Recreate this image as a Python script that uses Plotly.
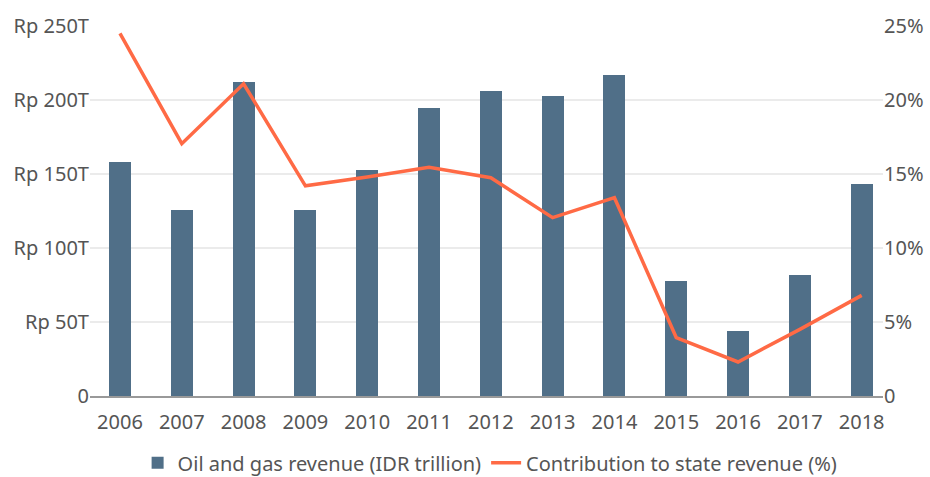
import plotly.graph_objects as go

years = [2006, 2007, 2008, 2009, 2010, 2011, 2012, 2013, 2014, 2015, 2016, 2017, 2018]
revenue = [158, 125.5, 212, 125.5, 152.5, 194.5, 206, 203, 217, 78, 44, 81.5, 143]
share = [24.5, 17.05, 21.1, 14.2, 14.8, 15.45, 14.75, 12.05, 13.4, 3.95, 2.3, 4.5, 6.8]
left_ticks = [0, 50, 100, 150, 200, 250]
left_labels = ["0", "Rp 50T", "Rp 100T", "Rp 150T", "Rp 200T", "Rp 250T"]
right_ticks = [0, 5, 10, 15, 20, 25]
right_labels = ["0", "5%", "10%", "15%", "20%", "25%"]

FONT = "Noto Sans"
TXT = "#555555"
FS = 20

fig = go.Figure()
fig.add_trace(go.Bar(x=years, y=revenue, name="Oil and gas revenue (IDR trillion)",
                     marker=dict(color="#506F88", line=dict(width=0)), width=0.356))
fig.add_trace(go.Scatter(x=years, y=share, name="Contribution to state revenue (%)",
                         mode="lines", line=dict(color="#FF6A45", width=3.5), yaxis="y2"))

fig.update_layout(
    width=930, height=477,
    margin=dict(l=90, r=47, t=26, b=81, autoexpand=False),
    paper_bgcolor="white", plot_bgcolor="white",
    font=dict(family=FONT, size=FS, color=TXT),
    showlegend=True,
    legend=dict(orientation="h", x=0.527, xanchor="center", xref="container",
                y=-0.128, yanchor="top", yref="paper",
                font=dict(size=FS, color=TXT), traceorder="normal"),
    xaxis=dict(range=[2005.515, 2018.345], tickvals=years, ticktext=[str(y) for y in years],
               showgrid=False, showline=True, linecolor="#999999", linewidth=1.5,
               ticks="", zeroline=False, automargin=False, ticklabelstandoff=7,
               tickfont=dict(size=FS, color=TXT)),
    yaxis=dict(range=[0, 250], tickvals=left_ticks, ticktext=left_labels,
               showgrid=True, gridcolor="#EBEBEB", gridwidth=1.5, zeroline=False,
               ticks="", showline=False, automargin=False, ticklabelstandoff=0,
               tickfont=dict(size=FS, color=TXT)),
    yaxis2=dict(range=[0, 25], tickvals=right_ticks, ticktext=right_labels,
                overlaying="y", side="right", showgrid=False, zeroline=False,
                ticks="", showline=False, automargin=False, ticklabelstandoff=0,
                tickfont=dict(size=FS, color=TXT)),
    bargap=0,
)

fig.write_html("out.html", config={"displayModeBar": False},
               post_script="document.body.style.margin='0';")
